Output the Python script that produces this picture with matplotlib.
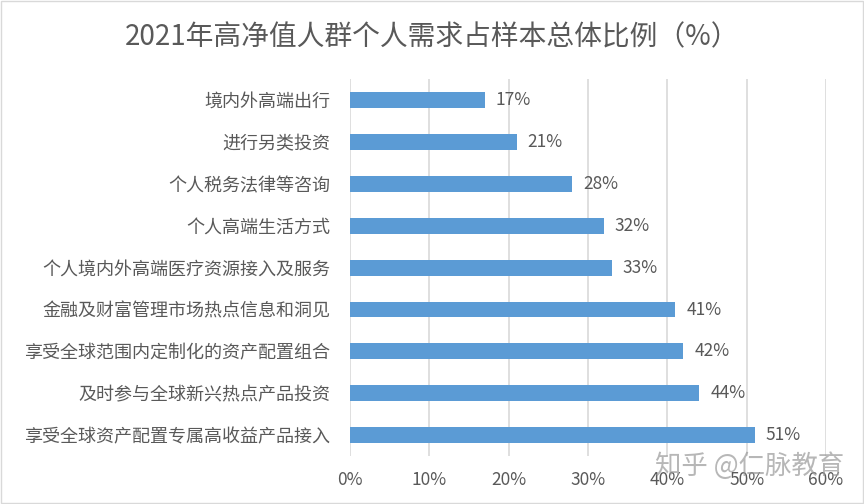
import matplotlib.pyplot as plt
from matplotlib.patches import Rectangle

plt.rcParams['font.family'] = ['Noto Sans CJK SC', 'DejaVu Sans']

# categories from top to bottom
categories = ['境内外高端出行', '进行另类投资', '个人税务法律等咨询', '个人高端生活方式',
              '个人境内外高端医疗资源接入及服务', '金融及财富管理市场热点信息和洞见',
              '享受全球范围内定制化的资产配置组合', '及时参与全球新兴热点产品投资',
              '享受全球资产配置专属高收益产品接入']
values = [17, 21, 28, 32, 33, 41, 42, 44, 51]
xticks = [0, 10, 20, 30, 40, 50, 60]

text_color = '#595959'
fig = plt.figure(figsize=(8.64, 5.04), dpi=100)
ax = fig.add_axes([0.405, 0.095, 0.551, 0.748])

ypos = list(range(len(categories)))
ax.barh(ypos, values, height=0.38, color='#5B9BD5', zorder=3)
for y, v in zip(ypos, values):
    ax.text(v + 1.4, y, f'{v}%', va='center', ha='left', fontsize=12.5, color=text_color)

ax.set_yticks(ypos)
ax.set_yticklabels(categories, fontsize=13, color=text_color)
ax.set_ylim(len(categories) - 0.5, -0.5)
ax.set_xlim(0, 60)
ax.set_xticks(xticks)
ax.set_xticklabels([f'{t}%' for t in xticks], fontsize=12.5, color=text_color)
ax.grid(axis='x', color='#D9D9D9', linewidth=1.2, zorder=0)
for s in ax.spines.values():
    s.set_visible(False)
ax.tick_params(length=0, pad=14)
ax.tick_params(axis='x', pad=11)

fig.text(0.5, 0.925, '2021年高净值人群个人需求占样本总体比例（%）', ha='center', va='center',
         fontsize=20, color=text_color)

fig.text(0.868, 0.075, '知乎 @仁脉教育', ha='center', va='center', fontsize=19,
         color='#999999', alpha=0.7)

fig.patches.append(Rectangle((0.001, 0.001), 0.998, 0.998, transform=fig.transFigure,
                             fill=False, edgecolor='#D9D9D9', linewidth=1))

fig.savefig('out.png', dpi=100)
